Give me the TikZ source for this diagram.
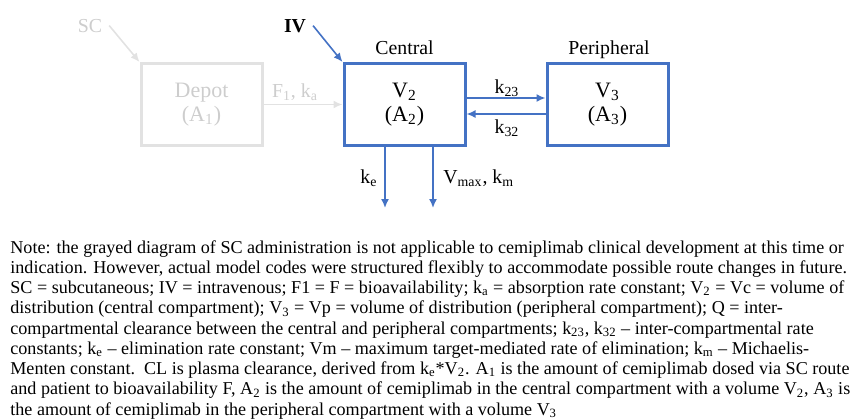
\documentclass[tikz,border=0pt]{standalone}
\usepackage{fontspec}
\setmainfont{Liberation Serif}
\usetikzlibrary{arrows.meta}
\definecolor{azul}{RGB}{68,114,196}
\definecolor{gris}{RGB}{226,226,226}
\definecolor{gristexto}{RGB}{205,205,205}

\begin{document}
\begin{tikzpicture}[x=0.5pt, y=-0.5pt, node distance=101.5pt,
    compartimento/.style={draw=azul, line width=1.5pt, rectangle, minimum width=60.5pt,
        minimum height=41pt, align=center, font=\fontsize{11}{12.2}\selectfont},
    deposito/.style={compartimento, draw=gris, text=gristexto},
    etiqueta/.style={anchor=base, font=\fontsize{9.9}{11}\selectfont},
    flecha/.style={draw=azul, line width=0.8pt, -{Latex[length=4.5pt, width=4pt]}},
    flechagris/.style={flecha, draw=gris}]
    \useasboundingbox (0,0) rectangle (856,418);

    % Compartimentos
    \node (central) at (404.5,104.5) [compartimento] {V\textsubscript{2}\\(A\textsubscript{2})};
    \node (peripheral) [right of=central, compartimento] {V\textsubscript{3}\\(A\textsubscript{3})};
    \node (depot) [left of=central, deposito] {Depot\\(A\textsubscript{1})};

    % Titulos y rutas de dosis
    \node (tcentral) at (404.5,54) [etiqueta] {Central};
    \node (tperipheral) at (609,54) [etiqueta] {Peripheral};
    \node (iv) at (295,32) [etiqueta, font=\fontsize{9.9}{11}\selectfont\bfseries] {IV};
    \node (sc) at (90,32) [etiqueta, text=gristexto] {SC};

    % Salidas por eliminacion
    \coordinate (keout) at (385,208);
    \coordinate (vmout) at (433,208);

    % Flechas de conexion
    \draw[flechagris] (sc.east) -- (depot.north west);
    \draw[flechagris] (depot.east) -- (central.west);
    \draw[flecha] (iv.east) -- (central.north west);
    \draw[flecha] ([yshift=3.25pt]central.east) -- ([yshift=3.25pt]peripheral.west);
    \draw[flecha] ([yshift=-4.75pt]peripheral.west) -- ([yshift=-4.75pt]central.east);
    \draw[flecha] (central.south -| keout) -- (keout);
    \draw[flecha] (central.south -| vmout) -- (vmout);

    % Constantes
    \node (fka) at (295,97) [etiqueta, text=gristexto] {F\textsubscript{1}, k\textsubscript{a}};
    \node (k23) at (507,93) [etiqueta] {k\textsubscript{23}};
    \node (k32) at (507,133) [etiqueta] {k\textsubscript{32}};
    \node (ke) at (369,183) [etiqueta] {k\textsubscript{e}};
    \node (vmax) at (443,183) [etiqueta, anchor=base west, inner xsep=0pt] {V\textsubscript{max}, k\textsubscript{m}};

    % Nota debajo del diagrama
    \node (nota) at (10,240) [anchor=north west, inner sep=0pt, align=left,
        font=\fontsize{9.05}{10.12}\selectfont]
    {Note: the grayed diagram of SC administration is not applicable to cemiplimab clinical development at this time or\\
    indication. However, actual model codes were structured flexibly to accommodate possible route changes in future.\\
    SC = subcutaneous; IV = intravenous; F1 = F = bioavailability; k\textsubscript{a} = absorption rate constant; V\textsubscript{2} = Vc = volume of\\
    distribution (central compartment); V\textsubscript{3} = Vp = volume of distribution (peripheral compartment); Q = inter-\\
    compartmental clearance between the central and peripheral compartments; k\textsubscript{23}, k\textsubscript{32} -- inter-compartmental rate\\
    constants; k\textsubscript{e} -- elimination rate constant; Vm -- maximum target-mediated rate of elimination; k\textsubscript{m} -- Michaelis-\\
    Menten constant.\ \ CL is plasma clearance, derived from k\textsubscript{e}*V\textsubscript{2}. A\textsubscript{1} is the amount of cemiplimab dosed via SC route\\
    and patient to bioavailability F, A\textsubscript{2} is the amount of cemiplimab in the central compartment with a volume V\textsubscript{2}, A\textsubscript{3} is\\
    the amount of cemiplimab in the peripheral compartment with a volume V\textsubscript{3}};
\end{tikzpicture}
\end{document}
